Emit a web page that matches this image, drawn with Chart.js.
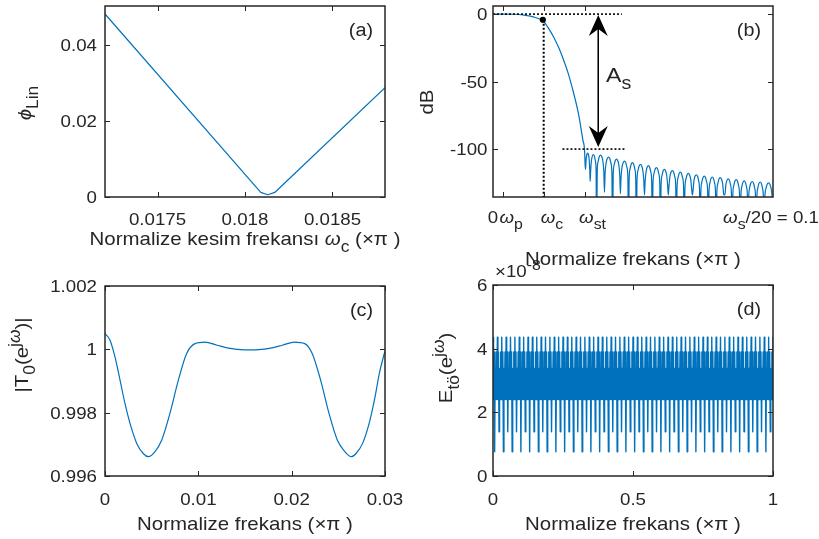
<!DOCTYPE html>
<html>
<head>
<meta charset="utf-8">
<script src="https://cdn.jsdelivr.net/npm/chart.js@4.4.1/dist/chart.umd.min.js"></script>
<style>
  body { margin: 0; background: #fff; }
  #fig { position: relative; width: 819px; height: 539px; overflow: hidden; }
  #fig canvas { position: absolute; }
</style>
</head>
<body>
<div id="fig">
  <canvas id="pa" width="410" height="270" style="left:0;top:0"></canvas>
  <canvas id="pb" width="409" height="270" style="left:410px;top:0"></canvas>
  <canvas id="pc" width="410" height="289" style="left:0;top:250px"></canvas>
  <canvas id="pd" width="409" height="289" style="left:410px;top:250px"></canvas>
</div>
<script>
// (a) linearity error vs cutoff frequency
const phiX = [0.0172, 0.01809, 0.01813, 0.01817, 0.0188];
const phiY = [0.0482, 0.0012, 0.0006, 0.0012, 0.0288];
const aTicksX = [0.0175, 0.018, 0.0185];
const aLabelsX = ['0.0175', '0.018', '0.0185'];
const aTicksY = [0, 0.02, 0.04];
const aLabelsY = ['0', '0.02', '0.04'];

// (b) prototype filter magnitude in dB
const bPassX = [0, 0.004, 0.008, 0.0109, 0.0133, 0.0151, 0.0167, 0.0177, 0.0195, 0.0216,
  0.0235, 0.0252, 0.0268, 0.0282, 0.0305, 0.0321, 0.0327];
const bPassY = [0, 0, -0.1, -0.7, -1.5, -2.5, -3.6, -4.4, -9.5, -16.8,
  -25, -34, -43.5, -53.8, -73.6, -93.3, -101];
// stopband: null positions / depths and the peak of each lobe between them
const bNullX = [0.0329, 0.0347, 0.0370, 0.0398, 0.0427, 0.0455, 0.0484, 0.0512, 0.0541, 0.0569,
  0.0598, 0.0626, 0.0655, 0.0683, 0.0712, 0.0740, 0.0769, 0.0797, 0.0826, 0.0854,
  0.0883, 0.0911, 0.0940, 0.0968, 0.1];
const bNullY = [-112, -124, -170, -132, -170, -133, -170, -170, -134, -170,
  -170, -134, -170, -170, -134, -170, -170, -170, -134, -170,
  -170, -170, -170, -170, -150];
const bPeakY = [-103, -104, -104.5, -106, -107.4, -108.9, -110.1, -111.4, -112.3, -113.8,
  -115.1, -116, -117, -118, -119, -120, -120.7, -121.2, -122, -122.7,
  -123.5, -124, -124.4, -125];
// arch shape of one sidelobe: fraction across the lobe, dB below its peak
const lobeFrac = [0.08, 0.2, 0.35, 0.5, 0.65, 0.8, 0.92];
const lobeDrop = [-12, -4.5, -1, 0, -1, -4.5, -12];
const bTicksX = [0.0036, 0.0182, 0.0327];
const bLabelAtX = [0, 0.0036, 0.0182, 0.0327, 0.1];
const bLabelsX = ['0', 'ω_{p}', 'ω_{c}', 'ω_{st}', 'ω_{s}/20 = 0.1'];
const bTicksY = [-100, -50, 0];
const bLabelsY = ['-100', '-50', '0'];
const passRefX = [0, 0.046], passRefY = [0, 0];
const stopRefX = [0.0248, 0.0471], stopRefY = [-100, -100];
const cutRefX = [0.0181, 0.0181], cutRefY = [-4.2, -135.5];
const cutDot = { x: 0.0178, y: -4.2 };
const asArrowX = 0.0376, asArrowTop = -0.6, asArrowBottom = -98.4;
const asLabelAt = { x: 0.0404, y: -50.4 };

// (c) overall distortion |T0|
const cX = [0, 0.00054, 0.00107, 0.00161, 0.00214, 0.00268, 0.0034, 0.0041, 0.00464, 0.00536,
  0.00607, 0.00696, 0.00786, 0.00875, 0.00964, 0.01071, 0.012, 0.0134, 0.0145, 0.0155,
  0.0165, 0.0176, 0.019, 0.0203, 0.0214, 0.0222, 0.0231, 0.024, 0.0249, 0.0257,
  0.0264, 0.0269, 0.0276, 0.0283, 0.0289, 0.0294, 0.03];
const cY = [1.0005, 1.00029, 0.99976, 0.99903, 0.99829, 0.99766, 0.99703, 0.99671, 0.99661, 0.99677,
  0.99713, 0.99798, 0.99903, 0.99987, 1.00018, 1.00023, 1.00013, 1.00003, 0.99999, 0.99998,
  0.99999, 1.00003, 1.00013, 1.00023, 1.00018, 0.99987, 0.99903, 0.99798, 0.99713, 0.99677,
  0.99661, 0.99671, 0.99703, 0.99766, 0.99845, 0.99925, 0.99995];
const cTicksX = [0, 0.01, 0.02, 0.03];
const cLabelsX = ['0', '0.01', '0.02', '0.03'];
const cTicksY = [0.996, 0.998, 1, 1.002];
const cLabelsY = ['0.996', '0.998', '1', '1.002'];

// (d) aliasing error (x1e-8): one period of the pattern, repeated along the band
const etoPeriod = [4.36, 2.4, 3.9, 0.76, 3.38, 2.4, 3.9, 2.4, 4.36, 2.4, 3.9, 1.39, 3.38, 2.4, 3.9, 2.4];
const etoPeriods = 32;
const dTicksX = [0, 0.5, 1];
const dLabelsX = ['0', '0.5', '1'];
const dTicksY = [0, 2, 4, 6];
const dLabelsY = ['0', '2', '4', '6'];

const etoX = [], etoY = [];
const nEto = etoPeriods * etoPeriod.length;
for (let k = 0; k <= nEto; k++) {
  etoX.push(k / nEto);
  etoY.push(etoPeriod[k % etoPeriod.length]);
}

// stopband curve: nulls joined by arch-shaped lobes
const bStopX = [bNullX[0]], bStopY = [bNullY[0]];
bPeakY.forEach((peak, i) => {
  const x0 = bNullX[i], x1 = bNullX[i + 1];
  lobeFrac.forEach((f, j) => {
    bStopX.push(x0 + f * (x1 - x0));
    bStopY.push(peak + lobeDrop[j]);
  });
  bStopX.push(x1);
  bStopY.push(bNullY[i + 1]);
});

const BLUE = '#0072BD';
const INK = '#262626';
const FONT = '"Liberation Sans", Arial, sans-serif';
const TICK = 17, TITLE = 18.6, SX = 1.1;
const SLANTED = 'ωϕ';

const pts = (xs, ys) => xs.map((x, i) => ({ x, y: ys[i] }));

// split "a_{b}c^{d}" into runs with sub/superscript level and italic greek
function parseTex(s) {
  const out = [];
  const push = (t, d) => {
    for (const ch of t) {
      const it = SLANTED.includes(ch);
      const last = out[out.length - 1];
      if (last && last.d === d && last.it === it) last.t += ch;
      else out.push({ t: ch, d, it });
    }
  };
  let buf = '';
  for (let i = 0; i < s.length; i++) {
    const c = s[i];
    if ((c === '_' || c === '^') && s[i + 1] === '{') {
      push(buf, 0);
      buf = '';
      const end = s.indexOf('}', i);
      push(s.slice(i + 2, end), c === '_' ? 1 : -1);
      i = end;
    } else buf += c;
  }
  push(buf, 0);
  return out;
}

function drawTex(ctx, s, x, y, size, align, rot) {
  const segs = parseTex(s);
  ctx.save();
  ctx.translate(x, y);
  if (rot) ctx.rotate(rot);
  ctx.scale(SX, 1);
  ctx.fillStyle = INK;
  ctx.textAlign = 'left';
  ctx.textBaseline = 'alphabetic';
  const font = g => (g.it ? 'italic ' : '') + (g.d ? size * 0.85 : size) + 'px ' + FONT;
  let total = 0;
  segs.forEach(g => { ctx.font = font(g); total += ctx.measureText(g.t).width; });
  let cx = align === 'center' ? -total / 2 : align === 'right' ? -total : 0;
  segs.forEach(g => {
    ctx.font = font(g);
    const dy = g.d > 0 ? size * 0.35 : g.d < 0 ? -size * 0.42 : 0;
    ctx.fillText(g.t, cx, dy);
    cx += ctx.measureText(g.t).width;
  });
  ctx.restore();
}

function frame(cfg) {
  return {
    id: 'frame',
    afterDatasetsDraw(chart) {
      const ctx = chart.ctx, a = chart.chartArea;
      const xs = chart.scales.x, ys = chart.scales.y;
      ctx.save();
      ctx.strokeStyle = INK;
      ctx.lineWidth = 1;
      ctx.beginPath();
      cfg.ticksX.forEach(v => {
        const p = Math.round(xs.getPixelForValue(v)) + 0.5;
        ctx.moveTo(p, a.bottom); ctx.lineTo(p, a.bottom - 5);
        ctx.moveTo(p, a.top); ctx.lineTo(p, a.top + 5);
      });
      cfg.ticksY.forEach(v => {
        const p = Math.round(ys.getPixelForValue(v)) + 0.5;
        ctx.moveTo(a.left, p); ctx.lineTo(a.left + 5, p);
        ctx.moveTo(a.right, p); ctx.lineTo(a.right - 5, p);
      });
      ctx.stroke();
      ctx.lineWidth = 1.5;
      ctx.strokeRect(a.left, a.top, a.right - a.left, a.bottom - a.top);

      const at = cfg.labelAtX || cfg.ticksX;
      at.forEach((v, i) => {
        const dx = cfg.labelDx ? cfg.labelDx[i] : 0;
        drawTex(ctx, cfg.labelsX[i], xs.getPixelForValue(v) + dx, a.bottom + cfg.xLabelDrop, TICK, 'center');
      });
      cfg.ticksY.forEach((v, i) => {
        drawTex(ctx, cfg.labelsY[i], a.left - cfg.yLabelGap, ys.getPixelForValue(v) + 6, TICK, 'right');
      });
      drawTex(ctx, cfg.titleX, (a.left + a.right) / 2, cfg.titleXY, TITLE, 'center');
      drawTex(ctx, cfg.titleY, cfg.titleYX, cfg.titleYY, TITLE, 'center', -Math.PI / 2);
      drawTex(ctx, cfg.tag, a.right - 12, a.top + 30, 18, 'right');
      ctx.restore();
    }
  };
}

// double arrow + A_s for panel (b)
const arrowPlugin = {
  id: 'asArrow',
  afterDatasetsDraw(chart) {
    const ctx = chart.ctx, xs = chart.scales.x, ys = chart.scales.y;
    const px = xs.getPixelForValue(asArrowX);
    const top = ys.getPixelForValue(asArrowTop), bot = ys.getPixelForValue(asArrowBottom);
    ctx.save();
    ctx.fillStyle = '#000';
    const head = (py, dir) => {
      ctx.beginPath();
      ctx.moveTo(px, py);
      ctx.lineTo(px - 9.5, py - dir * 21);
      ctx.lineTo(px, py - dir * 14);
      ctx.lineTo(px + 9.5, py - dir * 21);
      ctx.closePath();
      ctx.fill();
    };
    head(top, -1);
    head(bot, 1);
    ctx.restore();
    drawTex(ctx, 'A_{s}', xs.getPixelForValue(asLabelAt.x), ys.getPixelForValue(asLabelAt.y), 21, 'left');
  }
};

const expPlugin = {
  id: 'exponent',
  afterDatasetsDraw(chart) {
    drawTex(chart.ctx, '×10^{-8}', 85, 27, TICK, 'left');
  }
};

function lineSet(data, extra) {
  return Object.assign({
    data, showLine: true, borderColor: BLUE, borderWidth: 1.2,
    pointRadius: 0, fill: false, borderJoinStyle: 'round'
  }, extra || {});
}

function dotted(xs, ys, width) {
  return lineSet(pts(xs, ys), { borderColor: '#000', borderWidth: width, borderDash: [2, 2], borderJoinStyle: 'miter' });
}

function makeChart(id, datasets, pad, xr, yr, plugins) {
  return new Chart(document.getElementById(id), {
    type: 'scatter',
    data: { datasets },
    options: {
      responsive: false,
      animation: false,
      layout: { padding: pad },
      plugins: { legend: { display: false }, tooltip: { enabled: false } },
      scales: {
        x: { type: 'linear', display: false, min: xr[0], max: xr[1] },
        y: { type: 'linear', display: false, min: yr[0], max: yr[1] }
      }
    },
    plugins
  });
}

makeChart('pa', [lineSet(pts(phiX, phiY))],
  { left: 105, top: 6, right: 25, bottom: 73 }, [0.0172, 0.0188], [0, 0.0503],
  [frame({
    ticksX: aTicksX, labelsX: aLabelsX, ticksY: aTicksY, labelsY: aLabelsY,
    xLabelDrop: 28, yLabelGap: 8,
    titleX: 'Normalize kesim frekansı ω_{c} (×π )', titleXY: 245,
    titleY: 'ϕ_{Lin}', titleYX: 31, titleYY: 103, tag: '(a)'
  })]);

makeChart('pb', [
    lineSet([cutDot], { pointRadius: 2.5, pointBackgroundColor: '#000', pointBorderColor: '#000', showLine: false }),
    dotted(passRefX, passRefY, 1.6),
    dotted(stopRefX, stopRefY, 1.6),
    dotted(cutRefX, cutRefY, 2),
    lineSet(pts([asArrowX, asArrowX], [asArrowTop - 8, asArrowBottom + 8]), { borderColor: '#000', borderWidth: 1 }),
    lineSet(pts(bPassX.concat(bStopX), bPassY.concat(bStopY)), { cubicInterpolationMode: 'monotone' })
  ],
  { left: 83, top: 6, right: 46, bottom: 73 }, [0, 0.1], [-135.5, 6],
  [frame({
    ticksX: bTicksX, labelAtX: bLabelAtX, labelsX: bLabelsX, labelDx: [0, 8, 8, 8, -2],
    ticksY: bTicksY, labelsY: bLabelsY,
    xLabelDrop: 26, yLabelGap: 5.5,
    titleX: 'Normalize frekans (×π )', titleXY: 265,
    titleY: 'dB', titleYX: 23, titleYY: 102, tag: '(b)'
  }), arrowPlugin]);

makeChart('pc', [lineSet(pts(cX, cY), { cubicInterpolationMode: 'monotone' })],
  { left: 105, top: 36, right: 25, bottom: 63 }, [0, 0.03], [0.996, 1.002],
  [frame({
    ticksX: cTicksX, labelsX: cLabelsX, ticksY: cTicksY, labelsY: cLabelsY,
    xLabelDrop: 29, yLabelGap: 8,
    titleX: 'Normalize frekans (×π )', titleXY: 280,
    titleY: '|T_{0}(e^{jω})|', titleYX: 28, titleYY: 105, tag: '(c)'
  })]);

makeChart('pd', [lineSet(pts(etoX, etoY), { borderWidth: 1.4 })],
  { left: 83, top: 35, right: 46, bottom: 63 }, [0, 1], [0, 6],
  [frame({
    ticksX: dTicksX, labelsX: dLabelsX, ticksY: dTicksY, labelsY: dLabelsY,
    xLabelDrop: 29, yLabelGap: 5.5,
    titleX: 'Normalize frekans (×π )', titleXY: 280,
    titleY: 'E_{tö}(e^{jω})', titleYX: 42, titleYY: 118, tag: '(d)'
  }), expPlugin]);
</script>
</body>
</html>
